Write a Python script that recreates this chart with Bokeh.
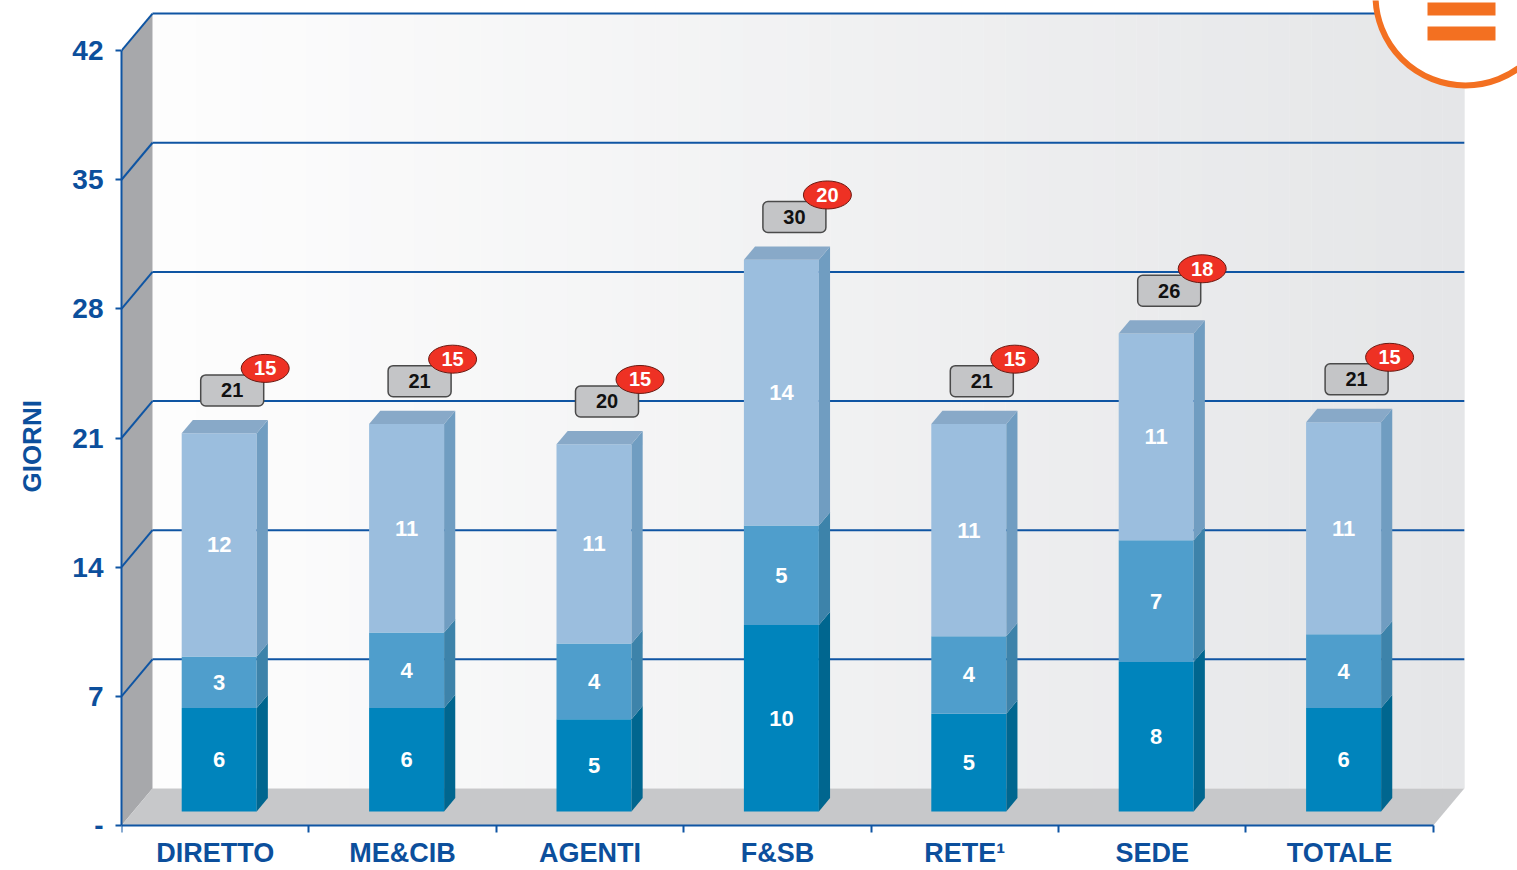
import numpy as np
from bokeh.plotting import figure
from bokeh.models import Range1d, FixedTicker
from bokeh.embed import file_html
from bokeh.resources import INLINE
from bokeh.core.properties import value

# ---------------- data ----------------
categories = ["DIRETTO", "ME&CIB", "AGENTI", "F&SB", "RETE¹", "SEDE", "TOTALE"]
seg_low = [5.6, 5.6, 5.0, 10.1, 5.3, 8.1, 5.6]
seg_mid = [2.8, 4.1, 4.1, 5.4, 4.2, 6.6, 4.0]
seg_top = [12.1, 11.3, 10.8, 14.4, 11.5, 11.2, 11.5]
lbl_low = ["6", "6", "5", "10", "5", "8", "6"]
lbl_mid = ["3", "4", "4", "5", "4", "7", "4"]
lbl_top = ["12", "11", "11", "14", "11", "11", "11"]
total_lbl = ["21", "21", "20", "30", "21", "26", "21"]
red_lbl = ["15", "15", "15", "20", "15", "18", "15"]
y_ticks = [0, 7, 14, 21, 28, 35, 42]

# ---------------- styling / geometry ----------------
W, H = 1517, 870
LEFT = 121
PX_X = 187.4
PX_Y = 18.45
ZERO_Y = 825  # figure pixel of value 0
BLUE = "#0F55A3"
TXT_BLUE = "#0C4F9C"
FONT = "Liberation Sans"
N = len(categories)
DX = 31 / PX_X
DY = 37 / PX_Y
D0, D1 = 0.38, 0.74
BW = 75 / PX_X
front_cols = ["#0084BC", "#4F9ECC", "#9BBEDE"]
side_cols = ["#00668F", "#3D83AA", "#709DC1"]
top_col = "#88A9C8"

p = figure(width=W, height=H, output_backend="svg", toolbar_location=None,
           x_range=Range1d(0, (W - LEFT) / PX_X),
           y_range=Range1d(-(H - ZERO_Y) / PX_Y, ZERO_Y / PX_Y),
           min_border_left=LEFT, min_border_right=0, min_border_top=0,
           min_border_bottom=0, background_fill_color="white",
           border_fill_color="white", outline_line_color=None)
p.xgrid.visible = False
p.ygrid.visible = False

ymax = y_ticks[-1]

# back wall gradient strips
ns = 60
edges = np.linspace(DX, N + DX, ns + 1)
c0 = np.array([0xFD, 0xFD, 0xFD])
c1 = np.array([0xE5, 0xE6, 0xE8])
cols = ["#%02x%02x%02x" % tuple(np.round(c0 + (c1 - c0) * t).astype(int))
        for t in np.linspace(0, 1, ns)]
p.quad(left=edges[:-1], right=edges[1:] + 0.002, bottom=DY, top=ymax + DY,
       fill_color=cols, line_color=None)
# left wall
p.patch([0, DX, DX, 0], [0, DY, ymax + DY, ymax], fill_color="#A7A8AB", line_color=None)
# floor
p.patch([0, N, N + DX, DX], [0, 0, DY, DY], fill_color="#C7C8CA", line_color=None)
# gridlines on back + left walls
gv = [v for v in y_ticks if v > 0]
p.segment(x0=[DX] * len(gv), y0=[v + DY for v in gv], x1=[N + DX] * len(gv),
          y1=[v + DY for v in gv], line_color=BLUE, line_width=2)
p.segment(x0=[0] * len(gv), y0=gv, x1=[DX] * len(gv), y1=[v + DY for v in gv],
          line_color=BLUE, line_width=2)

# bars
fy = D0 * DY
sdx = (D1 - D0) * DX
sdy = (D1 - D0) * DY
segs = [seg_low, seg_mid, seg_top]
lbls = [lbl_low, lbl_mid, lbl_top]
for i in range(N):
    cx = i + 0.5 + 4 / PX_X
    xl, xr = cx - BW / 2, cx + BW / 2
    base = 0.0
    for k in range(3):
        b, t = base, base + segs[k][i]
        p.quad(left=[xl], right=[xr], bottom=[b + fy], top=[t + fy],
               fill_color=front_cols[k], line_color=None)
        p.patch([xr, xr + sdx, xr + sdx, xr],
                [b + fy, b + fy + sdy, t + fy + sdy, t + fy],
                fill_color=side_cols[k], line_color=None)
        p.text(x=[cx], y=[(b + t) / 2 + fy], text=[lbls[k][i]],
               text_align="center", text_baseline="middle", text_color="white",
               text_font=value(FONT), text_font_style="bold", text_font_size="22px")
        base = t
    T = base + fy
    p.patch([xl, xr, xr + sdx, xl + sdx], [T, T, T + sdy, T + sdy],
            fill_color=top_col, line_color=None)
    # total box
    bcx = cx + 13 / PX_X
    bb = base + D1 * DY + 14 / PX_Y
    bt = bb + 31 / PX_Y
    p.quad(left=[bcx - 31.5 / PX_X], right=[bcx + 31.5 / PX_X], bottom=[bb], top=[bt],
           fill_color="#C4C5C7", line_color="#4A4A4A", line_width=1.5, border_radius=5)
    p.text(x=[bcx], y=[(bb + bt) / 2], text=[total_lbl[i]], text_align="center",
           text_baseline="middle", text_color="#111111", text_font=value(FONT),
           text_font_style="bold", text_font_size="20px")
    rcx = bcx + 33 / PX_X
    rcy = (bb + bt) / 2 + 22 / PX_Y
    p.ellipse(x=[rcx], y=[rcy], width=48, height=28, width_units="screen",
              height_units="screen", fill_color="#EE3124", line_color="#6B1A12",
              line_width=1)
    p.text(x=[rcx], y=[rcy], text=[red_lbl[i]], text_align="center",
           text_baseline="middle", text_color="white", text_font=value(FONT),
           text_font_style="bold", text_font_size="20px")

# orange logo (decoration)
def sx(px):
    return (px - LEFT) / PX_X
def sy(px):
    return (ZERO_Y - px) / PX_Y
p.circle(x=[sx(1465)], y=[sy(-5)], radius=90, radius_units="screen",
         fill_color="white", line_color="#F37021", line_width=6)
p.quad(left=[sx(1427)] * 2, right=[sx(1495)] * 2, bottom=[sy(15), sy(40)],
       top=[sy(2), sy(26)], fill_color="#F37021", line_color=None)

# y axis
ya = p.yaxis[0]
ya.ticker = FixedTicker(ticks=y_ticks)
ya.major_label_overrides = {0: "-"}
ya.bounds = (0, ymax)
ya.axis_line_color = BLUE
ya.axis_line_width = 2
ya.major_tick_line_color = BLUE
ya.major_tick_line_width = 2
ya.major_tick_out = 6
ya.major_tick_in = 0
ya.minor_tick_line_color = None
ya.major_label_standoff = 12
ya.major_label_text_font = FONT
ya.major_label_text_font_style = "bold"
ya.major_label_text_font_size = "28px"
ya.major_label_text_color = TXT_BLUE
ya.axis_label = "GIORNI\u00a0\u00a0\u00a0"
ya.axis_label_text_font = FONT
ya.axis_label_text_font_style = "bold"
ya.axis_label_text_font_size = "26px"
ya.axis_label_text_color = TXT_BLUE
ya.axis_label_standoff = 22

# x axis
xa = p.xaxis[0]
centers = [i + 0.5 for i in range(N)]
xa.ticker = FixedTicker(ticks=centers, minor_ticks=list(range(N + 1)))
xa.major_label_overrides = {c: name for c, name in zip(centers, categories)}
xa.fixed_location = 0
xa.bounds = (0, N)
xa.axis_line_color = BLUE
xa.axis_line_width = 2
xa.major_tick_line_color = None
xa.major_tick_out = 0
xa.major_tick_in = 0
xa.minor_tick_line_color = BLUE
xa.minor_tick_line_width = 2
xa.minor_tick_out = 7
xa.minor_tick_in = 0
xa.major_label_standoff = 5
xa.major_label_text_font = FONT
xa.major_label_text_font_style = "bold"
xa.major_label_text_font_size = "27px"
xa.major_label_text_color = TXT_BLUE

open("out.html", "w").write(file_html(p, INLINE))
